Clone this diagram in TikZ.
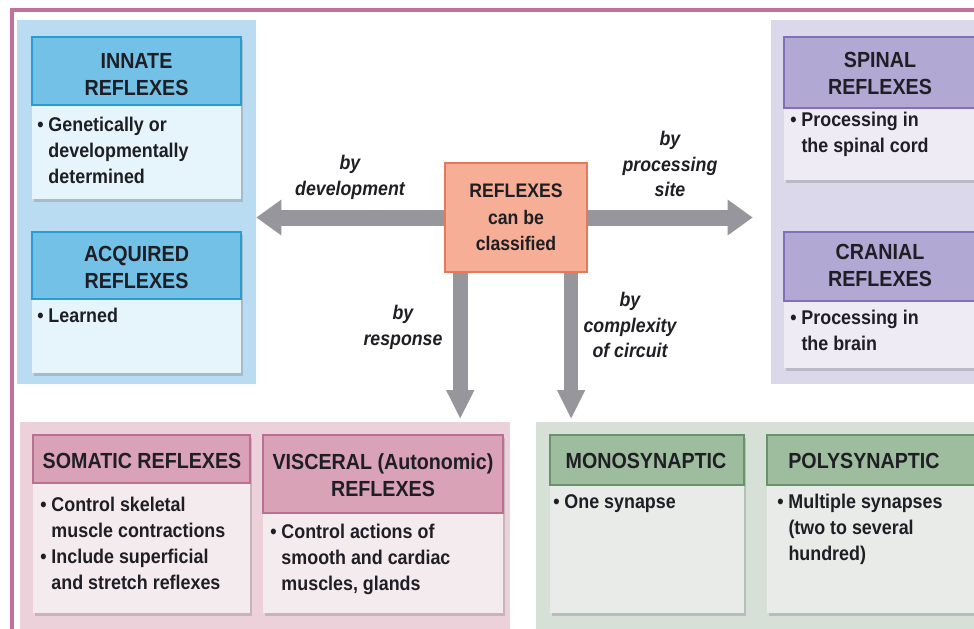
\documentclass[tikz,border=0pt]{standalone}
\usepackage{fontspec}
\setmainfont{Liberation Sans}[FakeStretch=0.9]
\usetikzlibrary{arrows.meta,fit,shadows}
\definecolor{framec}{RGB}{196,112,156}
\definecolor{ink}{RGB}{30,30,36}
\definecolor{arr}{RGB}{150,150,156}
\definecolor{lpanel}{RGB}{186,220,242}
\definecolor{bhdr}{RGB}{116,193,232}
\definecolor{bbrd}{RGB}{40,158,208}
\definecolor{bbody}{RGB}{230,245,252}
\definecolor{rpanel}{RGB}{220,216,236}
\definecolor{phdr}{RGB}{178,168,212}
\definecolor{pbrd}{RGB}{128,112,184}
\definecolor{pbody}{RGB}{238,235,245}
\definecolor{cfill}{RGB}{247,174,150}
\definecolor{cbrd}{RGB}{232,120,90}
\definecolor{kpanel}{RGB}{236,208,218}
\definecolor{khdr}{RGB}{218,162,182}
\definecolor{kbrd}{RGB}{186,112,144}
\definecolor{kbody}{RGB}{243,235,238}
\definecolor{gpanel}{RGB}{214,224,214}
\definecolor{ghdr}{RGB}{158,188,158}
\definecolor{gbrd}{RGB}{104,146,104}
\definecolor{gbody}{RGB}{232,235,232}
\newcommand{\hangsp}{\phantom{\textbullet\ }}
\begin{document}
\begin{tikzpicture}[x=0.75pt,y=-0.75pt,
  panel/.style={inner sep=0pt, draw=none},
  card/.style={inner sep=0pt, draw=none, drop shadow={opacity=0.35,shadow xshift=1.2pt,shadow yshift=-2.5pt}},
  hdr/.style={inner sep=0pt, line width=1.2pt},
  htext/.style={font=\fontsize{16.4}{20.25}\selectfont\bfseries, align=center, text=ink, inner sep=0pt},
  btext/.style={font=\fontsize{14.9}{19.5}\selectfont\bfseries, align=left, text=ink, inner sep=0pt, anchor=north west},
  lbl/.style={font=\fontsize{14.8}{19}\selectfont\bfseries\itshape, align=center, text=ink, inner sep=0pt},
  harrow/.style={draw=arr, line width=12pt, -{Triangle[length=18.75pt,width=25.5pt]}},
  varrow/.style={draw=arr, line width=11pt, -{Triangle[length=21.75pt,width=19.5pt]}}
]
\useasboundingbox (0,0) rectangle (974,628);
\clip (0,0) rectangle (974,628);
\fill[white] (0,0) rectangle (974,628);

% frame
\draw[framec, line width=2.4pt] (10,10) -- (990,10);
\draw[framec, line width=2.4pt] (12,10) -- (12,640);

% panels
\node[panel, fill=lpanel, fit={(17,20)(256,384)}] (LP) {};
\node[panel, fill=rpanel, fit={(771,20)(990,384)}] (RP) {};
\node[panel, fill=kpanel, fit={(20,422)(510,640)}] (PP) {};
\node[panel, fill=gpanel, fit={(536,422)(990,640)}] (GP) {};

% INNATE
\node[card, fill=bbody, fit={(32,37)(241,199)}] (inn) {};
\node[hdr, fill=bhdr, draw=bbrd, fit={(32,37)(241,105)}] (innH) {};
\node[htext] (innT) at (136.5,74.5) {INNATE\\REFLEXES};
\node[btext] (innB) at (37,117) {\textbullet\ Genetically or\\\hangsp developmentally\\\hangsp determined};

% ACQUIRED
\node[card, fill=bbody, fit={(32,232)(241,373)}] (acq) {};
\node[hdr, fill=bhdr, draw=bbrd, fit={(32,232)(241,299)}] (acqH) {};
\node[htext] (acqT) at (136.5,267.5) {ACQUIRED\\REFLEXES};
\node[btext] (acqB) at (37,308) {\textbullet\ Learned};

% SPINAL
\node[card, fill=pbody, fit={(784,37)(977,180)}] (spi) {};
\node[hdr, fill=phdr, draw=pbrd, fit={(784,37)(977,108)}] (spiH) {};
\node[htext] (spiT) at (880,73.5) {SPINAL\\REFLEXES};
\node[btext] (spiB) at (790,112) {\textbullet\ Processing in\\\hangsp the spinal cord};

% CRANIAL
\node[card, fill=pbody, fit={(784,232)(977,368)}] (cra) {};
\node[hdr, fill=phdr, draw=pbrd, fit={(784,232)(977,301)}] (craH) {};
\node[htext] (craT) at (880,265.5) {CRANIAL\\REFLEXES};
\node[btext] (craB) at (790,310) {\textbullet\ Processing in\\\hangsp the brain};

% SOMATIC
\node[card, fill=kbody, fit={(33,435)(250,613)}] (som) {};
\node[hdr, fill=khdr, draw=kbrd, fit={(33,435)(250,483)}] (somH) {};
\node[htext] (somT) at (142,461) {SOMATIC REFLEXES};
\node[btext] (somB) at (40,497) {\textbullet\ Control skeletal\\\hangsp muscle contractions\\\textbullet\ Include superficial\\\hangsp and stretch reflexes};

% VISCERAL
\node[card, fill=kbody, fit={(263,435)(503,613)}] (vis) {};
\node[hdr, fill=khdr, draw=kbrd, fit={(263,435)(503,513)}] (visH) {};
\node[htext] (visT) at (383,475) {VISCERAL (Autonomic)\\REFLEXES};
\node[btext] (visB) at (270,524) {\textbullet\ Control actions of\\\hangsp smooth and cardiac\\\hangsp muscles, glands};

% MONOSYNAPTIC
\node[card, fill=gbody, fit={(550,435)(744,613)}] (mon) {};
\node[hdr, fill=ghdr, draw=gbrd, fit={(550,435)(744,485)}] (monH) {};
\node[htext] (monT) at (646,461) {MONOSYNAPTIC};
\node[btext] (monB) at (553,494) {\textbullet\ One synapse};

% POLYSYNAPTIC
\node[card, fill=gbody, fit={(767,435)(975,613)}] (pol) {};
\node[hdr, fill=ghdr, draw=gbrd, fit={(767,435)(975,485)}] (polH) {};
\node[htext] (polT) at (864,461) {POLYSYNAPTIC};
\node[btext] (polB) at (777,494) {\textbullet\ Multiple synapses\\\hangsp (two to several\\\hangsp hundred)};

% center
\node[inner sep=0pt, fill=cfill, draw=cbrd, line width=1.2pt, fit={(445,163)(587,272)}] (C) {};
\node[font=\fontsize{14.7}{20}\selectfont\bfseries, align=center, text=ink, inner sep=0pt] (CT) at (C.center) {REFLEXES\\can be\\classified};

% arrows
\draw[harrow] (C.west) -- (C.west -| LP.east);
\draw[harrow, shorten >=13.5pt] (C.east) -- (C.east -| RP.west);
\coordinate (d1) at ([xshift=12pt]C.south west);
\coordinate (d2) at ([xshift=-12.5pt]C.south east);
\draw[varrow, shorten >=2pt] (d1) -- (d1 |- PP.north);
\draw[varrow, shorten >=2pt] (d2) -- (d2 |- GP.north);

% labels
\node[lbl] (l1) at (350,177.5) {by\\development};
\node[lbl] (l2) at (670,164) {by\\processing\\site};
\node[lbl] (l3) at (403,327.5) {by\\response};
\node[lbl] (l4) at (630,325) {by\\complexity\\of circuit};
\end{tikzpicture}
\end{document}
